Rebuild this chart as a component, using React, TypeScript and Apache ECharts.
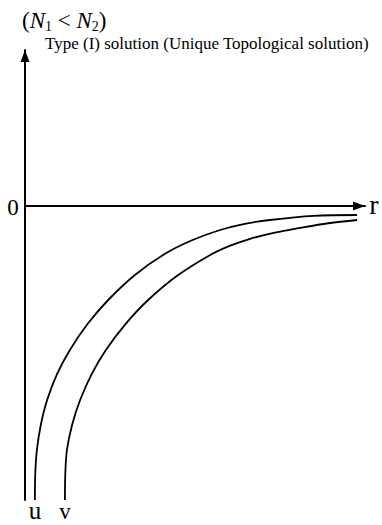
import React, { useEffect, useRef } from "react";
import * as echarts from "echarts";

// Radial coordinate r and value of the u profile
const uR = [0.30, 0.31, 0.36, 0.48, 0.67, 0.97, 1.36, 1.90, 2.52, 3.33, 4.24, 5.06, 5.91, 6.66, 7.42, 8.74, 10.06];
const uVal = [-10.0, -9.15, -8.30, -7.44, -6.60, -5.72, -4.90, -4.01, -3.20, -2.35, -1.63, -1.17, -0.82, -0.61, -0.48, -0.34, -0.31];

// Radial coordinate r and value of the v profile
const vR = [1.21, 1.22, 1.27, 1.43, 1.67, 2.02, 2.45, 3.05, 3.73, 4.62, 5.61, 6.20, 6.82, 7.57, 8.33, 9.19, 10.06];
const vVal = [-10.0, -9.15, -8.30, -7.43, -6.60, -5.72, -4.90, -4.01, -3.20, -2.37, -1.67, -1.36, -1.12, -0.91, -0.75, -0.59, -0.48];

const title = "Type (I) solution (Unique Topological solution)";
const SERIF = "'Liberation Serif', 'Times New Roman', serif";

const pairs = (xs: number[], ys: number[]) => xs.map((x, i) => [x, ys[i]]);

export default function App() {
  const ref = useRef<HTMLDivElement>(null);

  useEffect(() => {
    if (!ref.current) return;
    const chart = echarts.init(ref.current, undefined, { renderer: "svg" });
    const axisLine = {
      show: true,
      onZero: true,
      symbol: ["none", "triangle"],
      symbolSize: [9, 12],
      symbolOffset: [0, -6],
      lineStyle: { color: "#000", width: 2 },
    };
    const curve = (name: string, data: number[][]) => ({
      name,
      type: "line",
      data,
      smooth: 0.35,
      showSymbol: false,
      symbol: "none",
      lineStyle: { color: "#000", width: 1.8 },
      silent: true,
    });
    chart.setOption({
      animation: false,
      backgroundColor: "#fff",
      grid: { left: 25, right: 17, top: 50, bottom: 25 },
      xAxis: {
        type: "value",
        min: 0,
        max: 10.3,
        axisLine,
        axisTick: { show: false },
        axisLabel: { show: false },
        splitLine: { show: false },
      },
      yAxis: {
        type: "value",
        min: -10,
        max: 5.3,
        axisLine: { ...axisLine, onZero: false },
        axisTick: { show: false },
        axisLabel: { show: false },
        splitLine: { show: false },
      },
      series: [curve("u", pairs(uR, uVal)), curve("v", pairs(vR, vVal))],
      graphic: [
        {
          type: "text",
          x: 22,
          y: 20,
          style: {
            text: "({i|N}{s|1} < {i|N}{s|2})",
            font: `23px ${SERIF}`,
            fill: "#000",
            textVerticalAlign: "middle",
            rich: {
              i: { fontStyle: "italic", fontSize: 23, fontFamily: SERIF, lineHeight: 26 },
              s: { fontSize: 14, fontFamily: SERIF, lineHeight: 14, verticalAlign: "bottom" },
            },
          },
        },
        {
          type: "text",
          x: 45,
          y: 43,
          style: {
            text: title,
            font: `17px ${SERIF}`,
            fill: "#000",
            textVerticalAlign: "middle",
          },
        },
        {
          type: "text",
          x: 13,
          y: 207,
          style: { text: "0", font: `23px ${SERIF}`, fill: "#000", textAlign: "center", textVerticalAlign: "middle" },
        },
        {
          type: "text",
          x: 374,
          y: 204,
          style: { text: "r", font: `28px ${SERIF}`, fill: "#000", textAlign: "center", textVerticalAlign: "middle" },
        },
        {
          type: "text",
          x: 35,
          y: 510,
          style: { text: "u", font: `25px ${SERIF}`, fill: "#000", textAlign: "center", textVerticalAlign: "middle" },
        },
        {
          type: "text",
          x: 65,
          y: 511,
          style: { text: "v", font: `23px ${SERIF}`, fill: "#000", textAlign: "center", textVerticalAlign: "middle" },
        },
      ],
    });
    return () => chart.dispose();
  }, []);

  return (
    <div
      ref={ref}
      style={{ position: "absolute", left: 0, top: 0, width: 382, height: 525 }}
    />
  );
}
